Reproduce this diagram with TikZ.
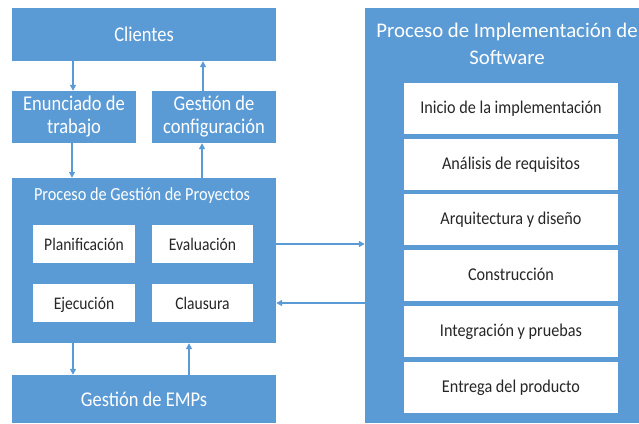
\documentclass[tikz,border=0pt]{standalone}
\usepackage{fontspec}
\setmainfont{Carlito}
\newfontfamily\cf{Carlito}[FakeStretch=0.88]
\newfontfamily\cg{Carlito}[FakeStretch=0.9]
\usetikzlibrary{arrows.meta}
\definecolor{ofblue}{HTML}{5B9BD5}
\begin{document}
\begin{tikzpicture}[x=1pt,y=-1pt,
  bluebox/.style={fill=ofblue,draw=none,text=white,inner sep=0pt,align=center},
  whitebox/.style={fill=white,draw=none,text=black!85,inner sep=0pt,align=center},
  smallbox/.style={whitebox,minimum height=38pt,text height=12.4pt,text depth=0pt,font=\cf\fontsize{17.7}{20}\selectfont},
  stagebox/.style={whitebox,minimum width=214pt,minimum height=51pt,text height=12.6pt,text depth=3.6pt,font=\cg\fontsize{18}{21}\selectfont},
  arr/.style={draw=ofblue,line width=1.5pt,-{Triangle[length=6pt,width=6pt]}}]
\useasboundingbox (0,0) rectangle (639,423);
% left column
\node[bluebox,minimum width=264pt,minimum height=53pt,font=\cf\fontsize{21}{24}\selectfont] (clientes) at (144,34.5) {Clientes};
\node[bluebox,minimum width=124pt,minimum height=52pt,font=\cf\fontsize{21}{23}\selectfont] (enun) at (74,117) {Enunciado de\\trabajo};
\node[bluebox,minimum width=124pt,minimum height=52pt,font=\cf\fontsize{21}{23}\selectfont] (config) at (214,117) {Gestión de\\configuración};
\node[bluebox,minimum width=264pt,minimum height=165pt] (pgp) at (144,260.5) {};
\node[text=white,inner sep=0pt,font=\cf\fontsize{18.5}{21}\selectfont] (pgpt) at (142,196) {Proceso de Gestión de Proyectos};
\node[smallbox,minimum width=102pt] (plan) at (84,244) {Planificación};
\node[smallbox,minimum width=101pt] (eval) at (202.5,244) {Evaluación};
\node[smallbox,minimum width=102pt] (ejec) at (84,303) {Ejecución};
\node[smallbox,minimum width=101pt] (claus) at (202.5,303) {Clausura};
\node[bluebox,minimum width=264pt,minimum height=48pt,font=\cf\fontsize{21}{24}\selectfont] (emps) at (144,399) {Gestión de EMPs};
% right column
\node[bluebox,minimum width=274pt,minimum height=415pt] (psw) at (502,215.5) {};
\node[text=white,inner sep=0pt,align=center,font=\fontsize{20.8}{27}\selectfont] (pswt) at (507,44) {Proceso de Implementación de\\Software};
\node[stagebox] (s1) at (511,108.5) {Inicio de la implementación};
\node[stagebox] (s2) at (511,164.5) {Análisis de requisitos};
\node[stagebox] (s3) at (511,219.5) {Arquitectura y diseño};
\node[stagebox] (s4) at (511,275.5) {Construcción};
\node[stagebox] (s5) at (511,331.5) {Integración y pruebas};
\node[stagebox] (s6) at (511,387.5) {Entrega del producto};
% connectors
\draw[arr] ([xshift=-1pt]enun.north |- clientes.south) -- ([xshift=-1pt]enun.north);
\draw[arr] ([xshift=-11pt]config.north) -- ([xshift=-11pt]config.north |- clientes.south);
\draw[arr] ([xshift=-2pt]enun.south) -- ([xshift=-2pt]enun.south |- pgp.north);
\draw[arr] ([xshift=-12pt]config.south |- pgp.north) -- ([xshift=-12pt]config.south);
\draw[arr] ([xshift=-71pt]pgp.south) -- ([xshift=-71pt]pgp.south |- emps.north);
\draw[arr] ([xshift=45pt]emps.north) -- ([xshift=45pt]emps.north |- pgp.south);
\draw[arr] (pgp.east |- eval.center) -- (psw.west |- eval.center);
\draw[arr] (psw.west |- claus.center) -- (pgp.east |- claus.center);
\end{tikzpicture}
\end{document}
